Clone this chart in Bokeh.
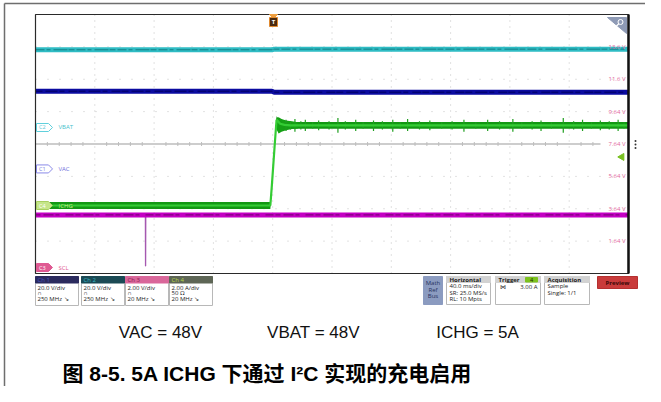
from bokeh.plotting import figure
from bokeh.models import Range1d
from bokeh.embed import file_html
from bokeh.resources import INLINE
from bokeh.core.properties import value

# ---------------- data ----------------
# Time base: 40 ms/div, 10 divisions, trigger at the 4th division
time_start_ms = -160
time_end_ms = 240
time_div_ms = 40

# Ch1 VAC (V)
vac_t = [-160, -0.5, 1.0, 240]
vac_v = [48.0, 48.0, 47.4, 47.4]
# Ch2 VBAT (V)
vbat_t = [-160, -0.5, 1.0, 240]
vbat_v = [48.0, 48.0, 48.4, 48.4]
# Ch3 SCL (V)
scl_t = [-160, 240]
scl_v = [3.25, 3.25]
scl_glitch_t = [-85.9, -85.8, -85.7, -85.6]
scl_glitch_v = [3.25, 0.1, 0.1, 3.25]
# Ch4 ICHG (A)
ichg_t = [-160, -1.6, -0.6, 0.4, 1.4, 2.6, 3.6, 5.0, 8.0, 12.0, 240]
ichg_a = [0.0, 0.0, 1.2, 2.5, 3.8, 5.3, 5.2, 5.05, 4.98, 4.95, 4.95]
ring_t = [2.6, 4.0, 6.0, 9.0, 13.0, 17.0]
ring_hi = [5.4, 5.45, 5.35, 5.25, 5.2, 5.15]
ring_lo = [4.7, 4.45, 4.55, 4.65, 4.72, 4.76]
spike_t = [9, 12, 15, 19, 22, 27, 31, 38, 44, 49, 56, 61, 68, 74, 81, 86, 91, 99, 106, 114,
           121, 129, 137, 145, 153, 162, 168, 175, 181, 188, 196, 203, 209, 215, 221, 227, 233, 237]
spike_hi = [5.3, 5.2, 5.35, 5.2, 5.3, 5.15, 5.25, 5.2, 5.4, 5.2, 5.3, 5.15, 5.25, 5.2, 5.3, 5.15,
            5.35, 5.2, 5.25, 5.15, 5.2, 5.3, 5.15, 5.3, 5.2, 5.35, 5.15, 5.2, 5.25, 5.15, 5.4, 5.2,
            5.3, 5.15, 5.25, 5.2, 5.3, 5.15]
spike_lo = [4.6, 4.7, 4.55, 4.7, 4.6, 4.75, 4.65, 4.7, 4.5, 4.7, 4.6, 4.75, 4.6, 4.7, 4.55, 4.75,
            4.6, 4.7, 4.65, 4.75, 4.7, 4.55, 4.75, 4.6, 4.7, 4.55, 4.75, 4.7, 4.6, 4.75, 4.5, 4.7,
            4.6, 4.75, 4.65, 4.7, 4.6, 4.75]
trigger_level_a = 3.00

# channel settings: scale per division and ground level (divisions from bottom)
ch_scale = {"ch1": 20.0, "ch2": 20.0, "ch3": 2.0, "ch4": 2.0}
ch_ground = {"ch1": 3.23, "ch2": 4.51, "ch3": 0.185, "ch4": 2.10}

# right-hand graticule labels
grid_labels = ["13.6 V", "11.6 V", "9.64 V", "7.64 V", "5.64 V", "3.64 V", "1.64 V"]

# channel badges
ch_names = ["Ch 1", "Ch 2", "Ch 3", "Ch 4"]
ch_line1 = ["20.0 V/div", "20.0 V/div", "2.00 V/div", "2.00 A/div"]
ch_line2 = ["\u2229", "\u2229", "\u2229", "50 \u03a9"]
ch_line3 = ["250 MHz \u2198", "250 MHz \u2198", "20 MHz \u2198", "20 MHz \u2198"]
tag_names = [("C2", "VBAT", "ch2"), ("C1", "VAC", "ch1"), ("C4", "ICHG", "ch4"), ("C3", "SCL", "ch3")]

horiz_lines = ["40.0 ms/div", "SR: 25.0 MS/s", "RL: 10 Mpts"]
acq_lines = ["Sample", "Single: 1/1"]
bottom_notes = ["VAC = 48V", "VBAT = 48V", "ICHG = 5A"]
title_text = "图 8-5. 5A ICHG 下通过 I²C 实现的充电启用"

# ---------------- layout ----------------
W, H = 645, 386
PX0, PY0 = 0, 0
PX1, PY1 = PX0 + W, PY0 + H
SX0, SX1, SY0, SY1 = 35, 628, 14, 273   # scope graticule in picture pixels
NDX, NDY = 10, 8

px_per_ms = (SX1 - SX0) / (time_end_ms - time_start_ms)
t_left = time_start_ms - (SX0 - PX0) / px_per_ms
t_right = time_end_ms + (PX1 - SX1) / px_per_ms
px_per_div = (SY1 - SY0) / NDY
d_bottom = -(PY1 - SY1) / px_per_div
d_top = NDY + (SY0 - PY0) / px_per_div

p = figure(width=W, height=H, x_range=Range1d(PX0, PX1), y_range=Range1d(PY1, PY0),
           x_axis_type=None, y_axis_type=None, toolbar_location=None,
           output_backend="svg", min_border=0, outline_line_color=None,
           background_fill_color="white", border_fill_color="white")
p.title.visible = False

p.extra_x_ranges = {"t": Range1d(t_left, t_right)}
yr = {"d": Range1d(d_bottom, d_top)}
for ch in ch_scale:
    g, s = ch_ground[ch], ch_scale[ch]
    yr[ch] = Range1d((d_bottom - g) * s, (d_top - g) * s)
p.extra_y_ranges = yr

UI = "Open Sans"


def txt(x, y, s, size="6px", color="#222222", align="left", baseline="middle",
        style="normal", font=UI, **kw):
    p.text(x=[x], y=[y], text=[s], text_font=value(font), text_font_size=size,
           text_color=color, text_align=align, text_baseline=baseline,
           text_font_style=style, **kw)


# outer frame (document box)
p.line([4, 4], [3, PY1], line_color="#6e6e6e", line_width=1.5)
p.line([4, PX1], [3, 3], line_color="#6e6e6e", line_width=1.5)

# graticule
vx = [time_start_ms + k * time_div_ms for k in range(1, NDX)]
p.segment(x0=vx, y0=[0] * len(vx), x1=vx, y1=[NDY] * len(vx), x_range_name="t",
          y_range_name="d", line_color="#c4c4c4", line_width=1, line_dash="1 5")
hy = [k for k in range(1, NDY) if k != NDY // 2]
p.segment(x0=[time_start_ms] * len(hy), y0=hy, x1=[time_end_ms] * len(hy), y1=hy,
          x_range_name="t", y_range_name="d", line_color="#c4c4c4", line_width=1,
          line_dash="1 11")
center_end = time_start_ms + (600 - SX0) / px_per_ms
p.line([time_start_ms, center_end], [NDY / 2, NDY / 2], x_range_name="t",
       y_range_name="d", line_color="#bdbdbd", line_width=1.5)
tk = [time_start_ms + k * time_div_ms / 5 for k in range(1, 5 * NDX) if k % 5 != 0]
tk = [x for x in tk if x < center_end]
tick_h = 2 / px_per_div
p.segment(x0=tk, x1=tk, y0=[NDY / 2 - tick_h] * len(tk), y1=[NDY / 2 + tick_h] * len(tk),
          x_range_name="t", y_range_name="d", line_color="#bdbdbd", line_width=1)

# traces --------------------------------------------------------
# VBAT (ch2)
p.line(vbat_t, vbat_v, x_range_name="t", y_range_name="ch2", line_color="#2fbcc4", line_width=5)
p.line(vbat_t, vbat_v, x_range_name="t", y_range_name="ch2", line_color="#137f86",
       line_width=1, line_dash="9 2 4 3 14 1 6 2")
# VAC (ch1)
p.line(vac_t, vac_v, x_range_name="t", y_range_name="ch1", line_color="#0b0ba0", line_width=5)
p.line(vac_t, vac_v, x_range_name="t", y_range_name="ch1", line_color="#000060",
       line_width=1, line_dash="7 3 12 2 5 4 9 1")
# ICHG (ch4)
band = 0.21
p.varea(x=ichg_t, y1=[a - band for a in ichg_a], y2=[a + band for a in ichg_a],
        x_range_name="t", y_range_name="ch4", fill_color="#139813")
p.varea(x=ring_t, y1=ring_lo, y2=ring_hi, x_range_name="t", y_range_name="ch4",
        fill_color="#15a015")
p.segment(x0=spike_t, x1=spike_t, y0=spike_lo, y1=spike_hi, x_range_name="t",
          y_range_name="ch4", line_color="#1f9f1f", line_width=1.2)
p.line(ichg_t, ichg_a, x_range_name="t", y_range_name="ch4", line_color="#34cc34", line_width=2.2)
# SCL (ch3)
p.line(scl_glitch_t, scl_glitch_v, x_range_name="t", y_range_name="ch3",
       line_color="#a558b0", line_width=1.2)
p.line(scl_t, scl_v, x_range_name="t", y_range_name="ch3", line_color="#c400c4", line_width=5)
p.line(scl_t, scl_v, x_range_name="t", y_range_name="ch3", line_color="#70006e",
       line_width=1, line_dash="5 3 10 2 4 6 8 2")

# scope frame
p.quad(left=[SX0], right=[SX1], top=[SY0], bottom=[SY1], fill_color=None,
       line_color="#2a2a2a", line_width=1.2)
p.line([SX1, SX1], [SY0, SY1], line_color="#111111", line_width=2.5)

# right graticule labels
gl_y = [NDY - 1 - k for k in range(len(grid_labels))]
p.text(x=[625] * len(grid_labels), y=gl_y, text=grid_labels, y_range_name="d",
       text_font=value(UI), text_font_size="6px", text_color="#e2679c",
       text_align="right", text_baseline="middle")

# channel ground tags
tag_style = {
    "ch2": dict(fill="white", line="#5fd0dc", tcol="#5fc8d6", ncol="#45bfcc"),
    "ch1": dict(fill="white", line="#8a8ae8", tcol="#7b7be0", ncol="#7070dc"),
    "ch4": dict(fill="#c5e58a", line="#a8d060", tcol="white", ncol="#c8ec8a"),
    "ch3": dict(fill="#df5a92", line="#df5a92", tcol="white", ncol="#df5a92"),
}
hh = 4 / px_per_div
for tag, name, ch in tag_names:
    g = ch_ground[ch]
    st = tag_style[ch]
    p.patch([36, 48, 52, 48, 36], [g - hh, g - hh, g, g + hh, g + hh], y_range_name="d",
            fill_color=st["fill"], line_color=st["line"], line_width=1)
    p.text(x=[38.5], y=[g], text=[tag], y_range_name="d", text_font=value(UI),
           text_font_size="5.5px", text_color=st["tcol"], text_baseline="middle")
    p.text(x=[58], y=[g], text=[name], y_range_name="d", text_font=value(UI),
           text_font_size="6px", text_color=st["ncol"], text_baseline="middle")

# trigger position marker "T"
p.patch([269, 277, 273], [14, 14, 18], fill_color="#f0a040", line_color="#f0a040")
p.quad(left=[269], right=[277], top=[17], bottom=[26], fill_color="#4a2a10",
       line_color="#e08a30", line_width=1)
txt(273, 21.5, "T", size="6px", color="white", align="center", style="bold")

# trigger level arrow
p.scatter(x=[time_end_ms - 4.5], y=[trigger_level_a], x_range_name="t", y_range_name="ch4",
          marker="triangle", angle=1.5708, size=7, fill_color="#78c020", line_color="#78c020")
p.scatter(x=[635, 635, 635], y=[140.5, 144, 147.5], marker="circle", size=2,
          fill_color="#333333", line_color=None)

# zoom corner icon
p.patch([607, 626, 626], [17, 17, 33], fill_color="#8e9ab5", line_color="#8e9ab5")
p.scatter(x=[620], y=[21.5], marker="circle", size=5, fill_color=None, line_color="white",
          line_width=1)
p.segment(x0=[618.3], y0=[23.3], x1=[615], y1=[26.5], line_color="white", line_width=1.2)

# channel badges -------------------------------------------------
bx = [35, 81, 125, 169]
bw = 43
head_fill = ["#2b2b5e", "#1b4a55", "#d9679a", "#5e6656"]
head_text = ["#4a56c0", "#38b8c2", "#8a1a50", "#b8d84a"]
for i in range(4):
    x0 = bx[i]
    p.quad(left=[x0], right=[x0 + bw], top=[276], bottom=[305], fill_color="white",
           line_color="#b8b8b8", line_width=1)
    p.quad(left=[x0], right=[x0 + bw], top=[276], bottom=[282.5], fill_color=head_fill[i],
           line_color=head_fill[i], line_width=1)
    txt(x0 + 2, 279.5, ch_names[i], color=head_text[i])
    txt(x0 + 2, 287, ch_line1[i])
    txt(x0 + 2, 292.8, ch_line2[i])
    txt(x0 + 2, 298.6, ch_line3[i])

# Math/Ref/Bus
p.quad(left=[423], right=[442], top=[276], bottom=[304], fill_color="#8b9bc0",
       line_color="#8b9bc0")
for k, s in enumerate(["Math", "Ref", "Bus"]):
    txt(432.5, 282.3 + k * 6.8, s, color="#26325e", align="center")

# Horizontal
p.quad(left=[446], right=[490], top=[276], bottom=[304], fill_color="white",
       line_color="#b8b8b8")
p.quad(left=[446], right=[490], top=[276], bottom=[282], fill_color="#d2d2d2",
       line_color="#d2d2d2")
txt(449, 279, "Horizontal", style="bold")
for k, s in enumerate(horiz_lines):
    txt(449, 285.8 + k * 6.2, s)

# Trigger
p.quad(left=[495], right=[540], top=[276], bottom=[304], fill_color="white",
       line_color="#b8b8b8")
p.quad(left=[495], right=[540], top=[276], bottom=[282], fill_color="#d2d2d2",
       line_color="#d2d2d2")
txt(498, 279, "Trigger", style="bold")
p.quad(left=[525], right=[537], top=[277], bottom=[281.5], fill_color="#7dc21e",
       line_color="#7dc21e")
txt(531, 279.3, "4", size="5.5px", color="#1a2a00", align="center")
txt(499, 286, "\u22c8", size="6px")
txt(537, 286, "%.2f A" % trigger_level_a, align="right")

# Acquisition
p.quad(left=[544], right=[589], top=[276], bottom=[304], fill_color="white",
       line_color="#b8b8b8")
p.quad(left=[544], right=[589], top=[276], bottom=[282], fill_color="#d2d2d2",
       line_color="#d2d2d2")
txt(547, 279, "Acquisition", style="bold")
for k, s in enumerate(acq_lines):
    txt(547, 285.8 + k * 6.2, s)

# Preview button
p.quad(left=[597], right=[637], top=[276], bottom=[288], fill_color="#c93b3b",
       line_color="#b53030")
txt(617, 282, "Preview", color="#3a0808", align="center", style="bold")

# document text ------------------------------------------------------
DOC = "Liberation Sans, Noto Sans CJK SC"
for x, s in zip([160, 313, 477], bottom_notes):
    txt(x, 332, s, size="17px", color="#111111", align="center", baseline="middle",
        font=DOC)
txt(62, 373, title_text, size="21px", color="#000000", baseline="middle",
    style="bold", font=DOC)

open("out.html", "w").write(file_html(p, INLINE))
